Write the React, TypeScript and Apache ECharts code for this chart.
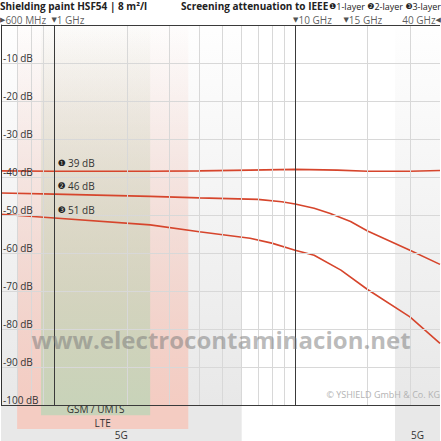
import * as echarts from 'echarts'
import { useEffect, useRef } from 'react'

const FONT = "'Open Sans', 'DejaVu Sans', sans-serif"
const RED = '#d6452c'
const INK = '#333'

// frequency in GHz, attenuation in dB
const layer1 = [[0.6, -38.4], [1, -38.5], [2.5, -38.5], [4, -38.4], [6.5, -38.2], [10, -38.0], [15, -38.2], [20, -38.5], [30, -38.5], [40, -38.3]]
const layer2 = [[0.6, -44.2], [1, -44.5], [2.5, -45.1], [4, -45.5], [7, -45.9], [8.8, -46.5], [10, -47.1], [12, -48.2], [14, -49.6], [17, -51.7], [20, -54.2], [30, -59.3], [40, -63.0]]
const layer3 = [[0.6, -49.8], [1, -50.8], [2.5, -52.6], [4, -54.4], [6.5, -56.1], [8, -57.4], [10, -59.3], [12, -60.6], [15.5, -64.5], [20, -69.6], [30, -76.8], [40, -83.8]]
const layers = [layer1, layer2, layer3]
const layerBadges = ['❶', '❷', '❸']
const layerLabels = ['39 dB', '46 dB', '51 dB']

const minorFreqs = [0.7, 0.8, 0.9, 2, 3, 4, 5, 6, 7, 8, 9, 20, 30]
const majorFreqs = [1, 10]
const dbTicks = [-10, -20, -30, -40, -50, -60, -70, -80, -90]

const freqMarks = [0.6, 1, 10, 15, 40]
const freqMarkTexts = ['{t|▶}600 MHz', '{t|▼}1 GHz', '{t|▼}10 GHz', '{t|▼}15 GHz', '40 GHz{t|◀}']
const freqMarkNudge = [-1, -3, -2, 6, 1]

// frequency bands: name, from, to (GHz), depth below the plot
const bandNames = ['5G', '5G', 'LTE', 'GSM / UMTS']
const bandFrom = [26, 0.6, 0.7, 0.88]
const bandTo = [40, 6, 3.6, 2.5]
const bandDepth = [3, 3, 2, 0.85]
const bandColors: Record<string, number[]> = {
  '5G': [232, 232, 232],
  LTE: [244, 204, 194],
  'GSM / UMTS': [200, 211, 185]
}

const rgba = (c: number[], a: number) => `rgba(${c[0]},${c[1]},${c[2]},${a})`

export default function App() {
  const chartRef = useRef<HTMLDivElement>(null)

  useEffect(() => {
    if (!chartRef.current) return
    const chart = echarts.init(chartRef.current, null, { renderer: 'svg' })

    const gridLine = (color: string) => ({ lineStyle: { color, width: 1, type: 'solid' } })

    const option: any = {
      animation: false,
      backgroundColor: '#fff',
      textStyle: { fontFamily: FONT },
      grid: [
        { left: 1, right: 1, top: 25, height: 380 },
        { left: 1, right: 1, top: 405, bottom: 0 }
      ],
      xAxis: [
        { type: 'log', gridIndex: 0, min: 0.6, max: 40, axisLine: { show: false }, axisTick: { show: false }, axisLabel: { show: false }, splitLine: { show: false } },
        { type: 'log', gridIndex: 1, min: 0.6, max: 40, show: false }
      ],
      yAxis: [
        {
          type: 'value', gridIndex: 0, min: -100, max: 0, interval: 10, z: 5,
          axisLine: { show: true, lineStyle: { color: INK, width: 1 } },
          axisTick: { show: false },
          splitLine: { show: false },
          axisLabel: {
            inside: true, margin: 2, fontSize: 10, color: INK, verticalAlign: 'bottom',
            formatter: (v: number) => (v === 0 ? '' : `${v} dB`)
          }
        },
        { type: 'value', gridIndex: 1, min: 0, max: 3, inverse: true, show: false }
      ],
      series: [
        {
          name: 'bands', type: 'line', data: [], z: 1, silent: true,
          markArea: {
            silent: true,
            data: bandNames.map((n, i) => [
              {
                xAxis: bandFrom[i],
                itemStyle: {
                  color: new echarts.graphic.LinearGradient(0, 0, 0, 1, [
                    { offset: 0, color: rgba(bandColors[n], 0.03) },
                    { offset: 1, color: rgba(bandColors[n], 1) }
                  ])
                }
              },
              { xAxis: bandTo[i] }
            ])
          }
        },
        {
          // the bands continue below the plot, with their names
          name: 'bandsBelow', type: 'custom', xAxisIndex: 1, yAxisIndex: 1, z: 1, silent: true, clip: false,
          encode: { x: 0, y: 2 },
          data: bandNames.map((n, i) => [bandFrom[i], bandTo[i], bandDepth[i], i]),
          renderItem: (_params: any, api: any) => {
            const name = bandNames[api.value(3)]
            const p0 = api.coord([api.value(0), 0])
            const p1 = api.coord([api.value(1), api.value(2)])
            return {
              type: 'rect',
              shape: { x: p0[0], y: p0[1], width: p1[0] - p0[0], height: p1[1] - p0[1] },
              style: { fill: rgba(bandColors[name], 1) },
              textContent: {
                style: { text: name, fontSize: 10, lineHeight: 10, fontFamily: FONT, fill: INK }
              },
              textConfig: { position: 'insideBottom', distance: 1 }
            }
          }
        },
        {
          name: 'grid', type: 'line', data: [], z: 2, silent: true,
          markLine: {
            silent: true, symbol: ['none', 'none'], label: { show: false },
            data: [
              ...dbTicks.map(v => ({ yAxis: v, ...gridLine('#d8d8d8') })),
              ...minorFreqs.map(f => ({ xAxis: f, ...gridLine('#d8d8d8') })),
              ...majorFreqs.map(f => ({ xAxis: f, ...gridLine('#3a3a3a') })),
              { yAxis: 0, ...gridLine('#3a3a3a') },
              { yAxis: -100, ...gridLine('#3a3a3a') }
            ]
          }
        },
        ...layers.map((d, i) => ({
          name: `${i + 1}-layer`, type: 'line', data: d, z: 3, showSymbol: false, symbol: 'none',
          lineStyle: { color: RED, width: 1.6 },
          markPoint: {
            silent: true, symbolSize: 0,
            data: [{ coord: d.find(p => p[0] === 1) }],
            label: {
              show: true, position: 'right', distance: 0, offset: [3, -8],
              fontSize: 10, color: INK,
              formatter: `{b|${layerBadges[i]}} ${layerLabels[i]}`,
              rich: { b: { fontFamily: 'DejaVu Sans', fontSize: 9, color: '#222' } }
            }
          }
        })),
        {
          name: 'marks', type: 'scatter', symbolSize: 0, z: 4, silent: true, clip: false,
          data: freqMarks.map((f, i) => ({
            value: [f, 0],
            label: {
              show: true, position: 'top', distance: 0, padding: 0,
              align: i === freqMarks.length - 1 ? 'right' : 'left',
              offset: [freqMarkNudge[i], 0],
              formatter: freqMarkTexts[i],
              fontSize: 10, lineHeight: 10, color: INK,
              rich: { t: { fontFamily: 'DejaVu Sans', fontSize: 7, lineHeight: 10, color: '#222' } }
            }
          }))
        }
      ],
      graphic: [
        { type: 'text', x: 0, y: 6, z: 10, style: { text: 'Shielding paint HSF54 | 8 m²/l', fontSize: 10, lineHeight: 10, fontWeight: 'bold', fontFamily: FONT, fill: '#222', verticalAlign: 'middle' } },
        { type: 'text', x: 181, y: 6, z: 10, style: { text: 'Screening attenuation to IEEE', fontSize: 10, lineHeight: 10, fontWeight: 'bold', fontFamily: FONT, fill: '#222', verticalAlign: 'middle' } },
        {
          type: 'text', x: 441, y: 6, z: 10,
          style: {
            text: '{b|❶}1-layer {b|❷}2-layer {b|❸}3-layer', fontSize: 9, lineHeight: 10, fontFamily: FONT, fill: '#222', align: 'right', verticalAlign: 'middle',
            rich: { b: { fontFamily: 'DejaVu Sans', fontSize: 8, lineHeight: 10, fill: '#222' } }
          }
        },
        { type: 'text', x: 221, y: 339, z: 10, style: { text: 'www.electrocontaminacion.net', fontSize: 24, fontWeight: 'bold', fontFamily: FONT, fill: 'rgba(120,120,120,0.5)', align: 'center', verticalAlign: 'middle' } },
        { type: 'text', x: 440, y: 394, z: 10, style: { text: '© YSHIELD GmbH & Co. KG', fontSize: 9, fontFamily: FONT, fill: '#b3b3b3', align: 'right', verticalAlign: 'middle' } }
      ]
    }

    chart.setOption(option)

    return () => {
      chart.dispose()
    }
  }, [])

  return (
    <div
      ref={chartRef}
      style={{ position: 'fixed', left: 0, top: 0, width: '441px', height: '441px' }}
    />
  )
}
